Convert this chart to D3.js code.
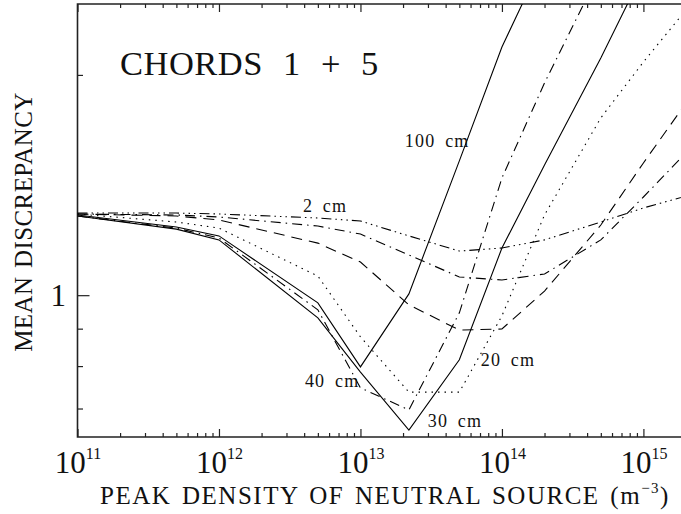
<!DOCTYPE html>
<html>
<head>
<meta charset="utf-8">
<script src="https://cdn.jsdelivr.net/npm/d3@7"></script>
<style>
  body { margin: 0; background: #fff; }
  svg { display: block; }
  text { font-family: "Liberation Serif", "Times New Roman", serif; fill: #111; }
</style>
</head>
<body>
<div id="chart"></div>
<script>
// peak density grid (m^-3) and mean discrepancy per chord width
const densities = [1e11, 5e11, 1e12, 5e12, 1e13, 2.2e13, 5e13, 1e14, 2e14, 5e14, 1e15, 2e15]
const chord100cm = [1.287, 1.239, 1.205, 0.976, 0.798, 1.004, 1.526, 2.184, 2.90]
const chord40cm = [1.283, 1.235, 1.197, 0.955, 0.747, 0.697, 0.946, 1.446, 1.950, 2.785]
const chord30cm = [1.283, 1.231, 1.190, 0.931, 0.785, 0.654, 0.816, 1.160, 1.506, 2.110, 2.767]
const chord20cm = [1.291, 1.259, 1.235, 1.062, 0.877, 0.737, 0.737, 0.937, 1.287, 1.747, 2.083, 2.454]
const chord10cm = [1.291, 1.283, 1.267, 1.178, 1.110, 0.970, 0.896, 0.899, 1.013, 1.247, 1.516, 1.831]
const chord5cm = [1.291, 1.287, 1.279, 1.243, 1.212, 1.135, 1.059, 1.049, 1.069, 1.190, 1.362, 1.565]
const chord2cm = [1.295, 1.295, 1.291, 1.275, 1.263, 1.205, 1.149, 1.160, 1.190, 1.259, 1.316, 1.366]

const xMajorTicks = [1e11, 1e12, 1e13, 1e14, 1e15]
const yMajorTicks = [1]
const yMinorTicks = [0.7, 0.8, 0.9, 2]

const title = "CHORDS 1 + 5"
const xTitle = "PEAK DENSITY OF NEUTRAL SOURCE (m"
const yTitle = "MEAN DISCREPANCY"

// label text + where it sits (density, discrepancy)
const curveLabels = [
    {text: "100 cm", at: [2.06e13, 1.594]},
    {text: "2 cm", at: [3.92e12, 1.299]},
    {text: "40 cm", at: [4.05e12, 0.749]},
    {text: "30 cm", at: [2.99e13, 0.661]},
    {text: "20 cm", at: [7.08e13, 0.800]}
]

// line styles (PGPLOT-ish)
const dashes = {
    solid: null,
    dashed: "11,7",
    dashdot: "10,5,1.5,5",
    dotted: "1.5,5",
    dash3dot: "10,4,1.5,4,1.5,4,1.5,4"
}
const curves = [
    {values: chord100cm, style: "solid"},
    {values: chord30cm, style: "solid"},
    {values: chord40cm, style: "dashdot"},
    {values: chord20cm, style: "dotted"},
    {values: chord10cm, style: "dashed"},
    {values: chord5cm, style: "dashdot"},
    {values: chord2cm, style: "dash3dot"}
]

const width = 681, height = 514
const plot = {left: 77.5, right: 686, top: 4, bottom: 437}

const svg = d3.select("#chart").append("svg")
    .attr("width", width)
    .attr("height", height)

const x = d3.scaleLog().domain([1e11, 2e15]).range([plot.left, plot.right])
const y = d3.scaleLog().domain([0.64, 2.5]).range([plot.bottom, plot.top])

// minor ticks 2..9 per decade
const xMinorTicks = d3.range(11, 16).flatMap(d => d3.range(2, 10).map(m => m * Math.pow(10, d))).filter(v => v < 2e15)

// clip
svg.append("clipPath").attr("id", "plotclip")
    .append("rect")
    .attr("x", plot.left).attr("y", plot.top)
    .attr("width", width - plot.left).attr("height", plot.bottom - plot.top)

// axes (ticks point inward)
function tickAxis(axis, values, size, g) {
    g.call(axis.tickValues(values).tickSize(-size).tickSizeOuter(0).tickFormat(""))
    g.select(".domain").remove()
    g.selectAll(".tick line").attr("stroke", "#222").attr("stroke-width", 1.2)
    return g
}

tickAxis(d3.axisBottom(x), xMinorTicks, 4, svg.append("g").attr("transform", `translate(0,${plot.bottom})`))
let gxMajor = tickAxis(d3.axisBottom(x), xMajorTicks, 8, svg.append("g").attr("transform", `translate(0,${plot.bottom})`))
tickAxis(d3.axisTop(x), xMinorTicks, 4, svg.append("g").attr("transform", `translate(0,${plot.top})`))
tickAxis(d3.axisTop(x), xMajorTicks, 8, svg.append("g").attr("transform", `translate(0,${plot.top})`))
tickAxis(d3.axisLeft(y), yMinorTicks, 5.5, svg.append("g").attr("transform", `translate(${plot.left},0)`))
let gyMajor = tickAxis(d3.axisLeft(y), yMajorTicks, 12, svg.append("g").attr("transform", `translate(${plot.left},0)`))

// x tick labels: 10^n
gxMajor.selectAll(".tick").append("text")
    .attr("y", 36)
    .attr("text-anchor", "middle")
    .each(function(d) {
        let t = d3.select(this)
        t.append("tspan").attr("font-size", 31).text("10")
        t.append("tspan").attr("font-size", 16).attr("dy", -14).text(Math.round(Math.log10(d)))
    })

gyMajor.selectAll(".tick").append("text")
    .attr("x", -11.5)
    .attr("dy", "0.34em")
    .attr("text-anchor", "end")
    .attr("font-size", 31)
    .text(d => d)

// frame (right side falls outside the picture)
svg.append("path")
    .attr("d", `M${width},${plot.top}H${plot.left}V${plot.bottom}H${width}`)
    .attr("fill", "none")
    .attr("stroke", "#222")
    .attr("stroke-width", 1.6)

// curves
const line = d3.line()
    .defined(d => d[1] != null)
    .x(d => x(d[0]))
    .y(d => y(d[1]))

svg.append("g").attr("clip-path", "url(#plotclip)")
    .selectAll("path")
    .data(curves)
    .join("path")
    .attr("d", c => line(c.values.map((v, i) => [densities[i], v])))
    .attr("fill", "none")
    .attr("stroke", "#000")
    .attr("stroke-width", 1.1)
    .attr("stroke-dasharray", c => dashes[c.style])

// curve labels
svg.selectAll(".curve-label")
    .data(curveLabels)
    .join("text")
    .attr("class", "curve-label")
    .attr("x", d => x(d.at[0]))
    .attr("y", d => y(d.at[1]))
    .attr("font-size", 18)
    .attr("letter-spacing", 1.2)
    .attr("word-spacing", 4)
    .text(d => d.text)

// titles
svg.append("text")
    .attr("x", 120)
    .attr("y", 75)
    .attr("font-size", 34.5)
    .attr("letter-spacing", 0.5)
    .attr("word-spacing", 11)
    .attr("fill", "#222")
    .text(title)

let xt = svg.append("text")
    .attr("x", 100)
    .attr("y", 504)
    .attr("font-size", 25)
    .attr("letter-spacing", 1.5)
    .attr("word-spacing", 3)
xt.append("tspan").text(xTitle)
xt.append("tspan").attr("font-size", 15).attr("dy", -11).text("\u22123")
xt.append("tspan").attr("dy", 11).text(")")

svg.append("text")
    .attr("transform", "translate(32,222) rotate(-90)")
    .attr("text-anchor", "middle")
    .attr("font-size", 25)
    .attr("letter-spacing", 0.4)
    .attr("word-spacing", 2)
    .text(yTitle)
</script>
</body>
</html>
